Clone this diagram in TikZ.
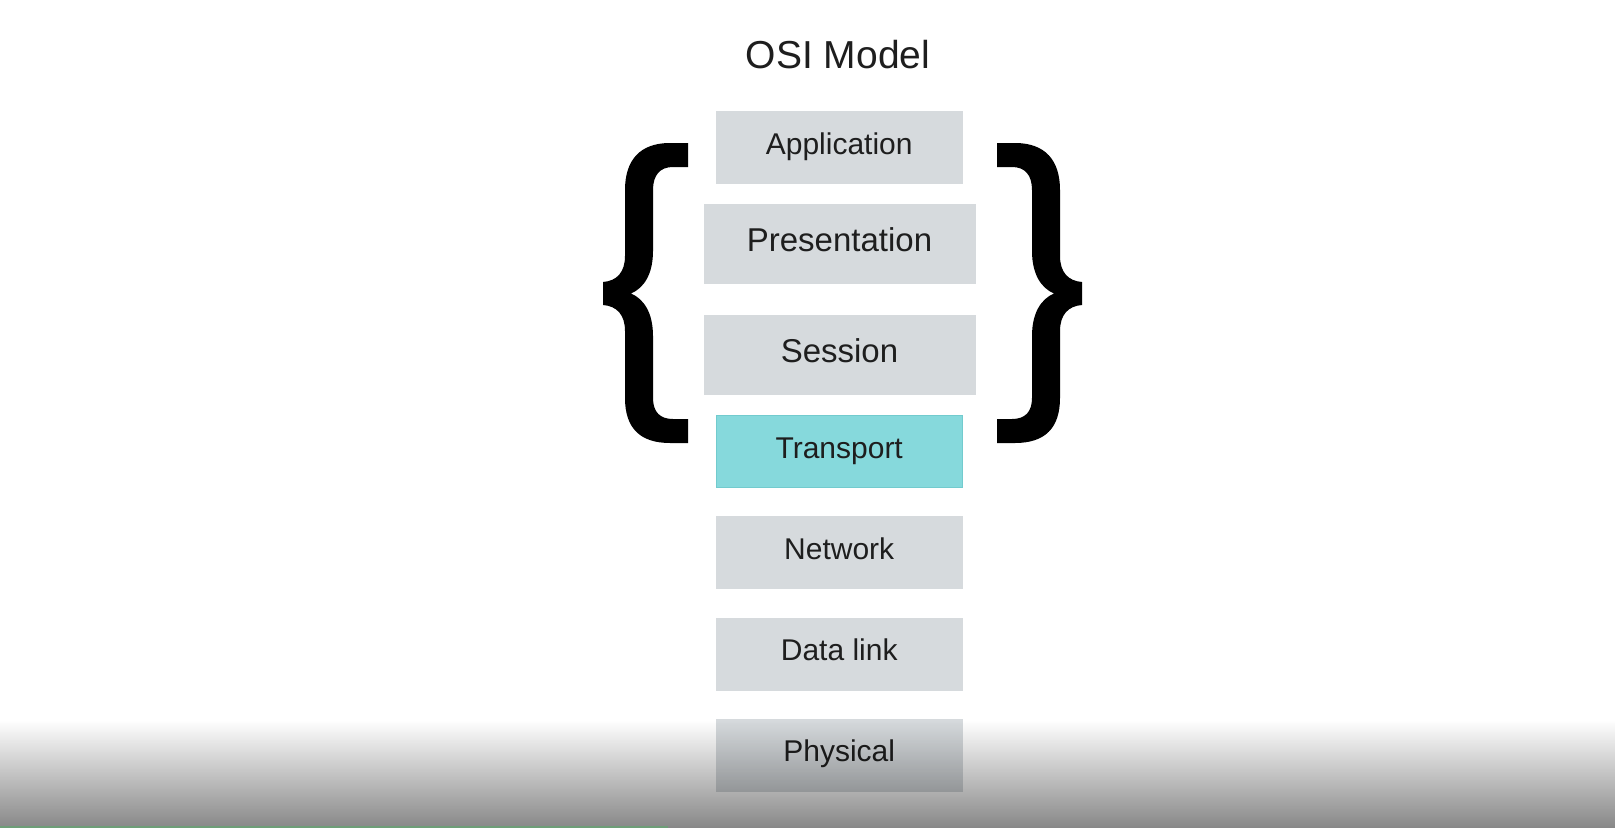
\documentclass[tikz,border=0pt]{standalone}
\usepackage{fontspec}
\setmainfont{Liberation Sans}
\usetikzlibrary{fadings}
\definecolor{boxgray}{HTML}{D6DADD}
\definecolor{tealfill}{HTML}{86D9DC}
\definecolor{tealedge}{HTML}{72CBCE}
\definecolor{txt}{HTML}{1E1E1E}
\definecolor{bargreen}{HTML}{6E9E78}
\tikzfading[name=bottomfade, top color=transparent!100, middle color=transparent!75, bottom color=transparent!0]
\newcommand\curlyshape{%
\fill[black] (688,143) -- (670,143)
  .. controls (640,143) and (625,160) .. (625,190) -- (625,256)
  .. controls (625,272) and (617,281) .. (603,282) -- (603,305)
  .. controls (617,306) and (625,315) .. (625,331) -- (625,398)
  .. controls (625,428) and (640,443) .. (670,443) -- (688,443) -- (688,419) -- (673,419)
  .. controls (660,419) and (653,412) .. (653,398) -- (653,336)
  .. controls (653,313) and (644,299) .. (631,293.5)
  .. controls (644,288) and (653,274) .. (653,251) -- (653,190)
  .. controls (653,175) and (660,167) .. (673,167) -- (688,167) -- cycle;}
\tikzset{
  layer/.style={rectangle, fill=boxgray, minimum width=247pt, minimum height=73pt,
    inner sep=0pt, text=txt, font=\fontsize{30}{36}\selectfont,
    text height=21.5pt, text depth=8pt},
  biglayer/.style={layer, minimum width=272pt, minimum height=80pt,
    font=\fontsize{33}{40}\selectfont, text height=23.7pt, text depth=8pt},
  hilayer/.style={layer, fill=tealfill, draw=tealedge, line width=1pt},
  titlestyle/.style={text=txt, font=\fontsize{39}{46}\selectfont, inner sep=0pt,
    text height=28pt, text depth=0pt}
}
\begin{document}
\begin{tikzpicture}[x=1pt,y=-1pt]
\useasboundingbox (0,0) rectangle (1620,828);
\fill[white] (0,0) rectangle (1620,828);
\node[titlestyle] (title) at (838,54.5) {OSI Model};
\node[layer] (app) at (839.2,147.5) {Application};
\node[biglayer] (pres) at (839.5,243.5) {Presentation};
\node[biglayer] (sess) at (839.5,355) {Session};
\node[hilayer, minimum width=246pt, minimum height=72pt] (trans) at (839.2,451.3) {Transport};
\node[layer] (net) at (839.2,552.7) {Network};
\node[layer] (dlink) at (839.2,654) {Data link};
\node[layer] (phys) at (839.2,755) {Physical};
\curlyshape
\begin{scope}[xshift=1685pt, xscale=-1]
\curlyshape
\end{scope}
\fill[black, fill opacity=0.47, path fading=bottomfade] (0,720) rectangle (1620,828);
\fill[bargreen] (0,826) rectangle (668,828);
\end{tikzpicture}
\end{document}
